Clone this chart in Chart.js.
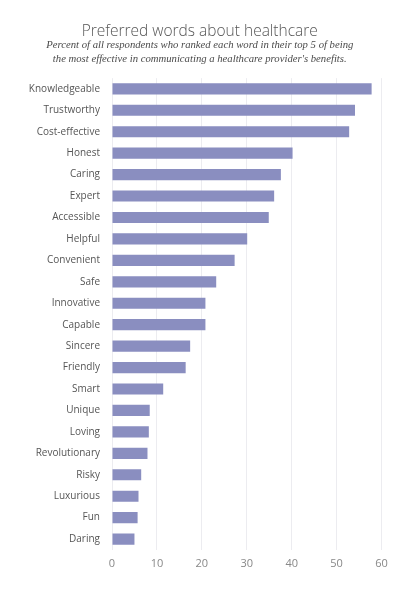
<!DOCTYPE html>
<html><head><meta charset="utf-8">
<script src="https://cdn.jsdelivr.net/npm/chart.js@4/dist/chart.umd.min.js"></script>
<style>html,body{margin:0;padding:0;background:#fff;}#wrap{width:404px;height:591px;position:relative;}</style>
</head><body><div id="wrap"><canvas id="c"></canvas></div>
<script>
const categories = ["Knowledgeable","Trustworthy","Cost-effective","Honest","Caring","Expert","Accessible","Helpful","Convenient","Safe","Innovative","Capable","Sincere","Friendly","Smart","Unique","Loving","Revolutionary","Risky","Luxurious","Fun","Daring"];
const values = [57.8,54.1,52.8,40.2,37.6,36.1,34.9,30.1,27.3,23.2,20.8,20.8,17.4,16.4,11.4,8.4,8.2,7.9,6.5,5.9,5.7,5.0];
const xTicks = [0,10,20,30,40,50,60];
const titleText = "Preferred words about healthcare";
const subtitleLines = ["Percent of all respondents who ranked each word in their top 5 of being","the most effective in communicating a healthcare provider's benefits."];

new Chart(document.getElementById('c'), {
  type: 'bar',
  data: { labels: categories, datasets: [{ data: values, backgroundColor: '#8a8ec0', barPercentage: 0.52, categoryPercentage: 1.0 }] },
  options: {
    indexAxis: 'y', responsive: true, maintainAspectRatio: false, animation: false,
    layout: { padding: { left: 18, right: 22.5, top: 20, bottom: 14 } },
    plugins: {
      legend: { display: false }, tooltip: { enabled: false },
      title: { display: true, text: titleText, color: '#555', font: { family: 'Open Sans', size: 15.5, weight: '300', lineHeight: 1.2 }, padding: { top: 2, bottom: -2 } },
      subtitle: { display: true, text: subtitleLines, color: '#4a4a4a', font: { family: 'Liberation Serif', size: 10.7, style: 'italic', lineHeight: 1.31 }, padding: { top: 0, bottom: 11.5 } }
    },
    scales: {
      x: { min: 0, max: 60, afterBuildTicks: s => { s.ticks = xTicks.map(v => ({ value: v })); },
           grid: { color: '#ececf0', drawTicks: false }, border: { display: false },
           ticks: { color: '#888', padding: 7, font: { family: 'Open Sans', size: 11 } } },
      y: { grid: { display: false }, border: { display: false },
           afterFit: s => { s.width = 94; },
           ticks: { color: '#555', padding: 4, font: { family: 'Open Sans', size: 10 } } }
    }
  }
});
</script></body></html>
